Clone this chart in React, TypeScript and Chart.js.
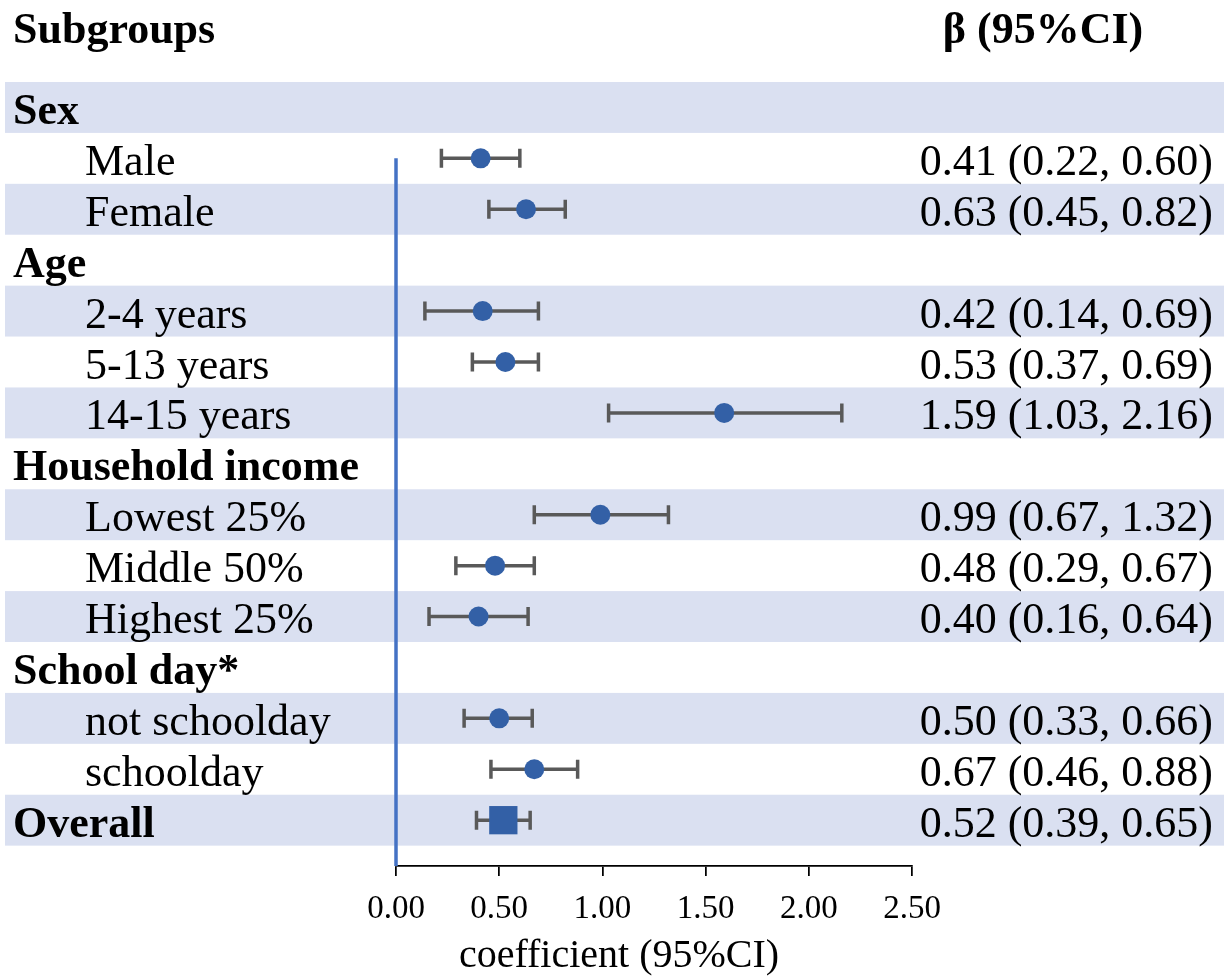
import React, { useEffect, useRef } from "react";
import { Chart, registerables } from "chart.js";

Chart.register(...registerables);

// Forest plot rows, top to bottom
const rowLabels = [
  "Sex",
  "Male",
  "Female",
  "Age",
  "2-4 years",
  "5-13 years",
  "14-15 years",
  "Household income",
  "Lowest 25%",
  "Middle 50%",
  "Highest 25%",
  "School day*",
  "not schoolday",
  "schoolday",
  "Overall",
];
const boldRows = [true, false, false, true, false, false, false, true, false, false, false, true, false, false, true];
const estimates = [null, 0.41, 0.63, null, 0.42, 0.53, 1.59, null, 0.99, 0.48, 0.4, null, 0.5, 0.67, 0.52];
const lowerCI = [null, 0.22, 0.45, null, 0.14, 0.37, 1.03, null, 0.67, 0.29, 0.16, null, 0.33, 0.46, 0.39];
const upperCI = [null, 0.6, 0.82, null, 0.69, 0.69, 2.16, null, 1.32, 0.67, 0.64, null, 0.66, 0.88, 0.65];
const xTicks = [0, 0.5, 1, 1.5, 2, 2.5];

const W = 1231;
const H = 977;
const SERIF = '"Liberation Serif", "Times New Roman", serif';
const BAND = "#DAE0F1";
const MARK = "#3360A6";
const WHISKER = "#595959";

const forestPlugin = {
  id: "forest",
  beforeDraw(chart: any) {
    const { ctx } = chart;
    const y = chart.scales.y;
    ctx.save();
    ctx.fillStyle = "#fff";
    ctx.fillRect(0, 0, chart.width, chart.height);
    ctx.fillStyle = BAND;
    rowLabels.forEach((_, i) => {
      if (i % 2 !== 0) return;
      const top = y.getPixelForValue(i - 0.5);
      const bot = y.getPixelForValue(i + 0.5);
      ctx.fillRect(5, top, 1219, bot - top);
    });
    ctx.restore();
  },
  beforeDatasetsDraw(chart: any) {
    const { ctx } = chart;
    const x = chart.scales.x;
    const y = chart.scales.y;
    ctx.save();
    // reference line at zero
    ctx.strokeStyle = "#4472C4";
    ctx.lineWidth = 3.5;
    ctx.beginPath();
    ctx.moveTo(x.getPixelForValue(0), y.getPixelForValue(1));
    ctx.lineTo(x.getPixelForValue(0), chart.chartArea.bottom);
    ctx.stroke();
    // confidence interval whiskers
    ctx.strokeStyle = WHISKER;
    ctx.lineWidth = 3.5;
    rowLabels.forEach((_, i) => {
      const lo = lowerCI[i];
      const hi = upperCI[i];
      if (lo == null || hi == null) return;
      const py = y.getPixelForValue(i);
      const x0 = x.getPixelForValue(lo);
      const x1 = x.getPixelForValue(hi);
      ctx.beginPath();
      ctx.moveTo(x0, py);
      ctx.lineTo(x1, py);
      ctx.moveTo(x0, py - 9.5);
      ctx.lineTo(x0, py + 9.5);
      ctx.moveTo(x1, py - 9.5);
      ctx.lineTo(x1, py + 9.5);
      ctx.stroke();
    });
    ctx.restore();
  },
  afterDraw(chart: any) {
    const { ctx } = chart;
    const y = chart.scales.y;
    ctx.save();
    ctx.fillStyle = "#000";
    ctx.textBaseline = "alphabetic";
    // column headers
    ctx.font = `bold 44px ${SERIF}`;
    ctx.textAlign = "left";
    ctx.fillText("Subgroups", 13, 43);
    ctx.textAlign = "center";
    ctx.fillText("β (95%CI)", 1043, 43);
    // row labels and values
    rowLabels.forEach((label, i) => {
      const base = y.getPixelForValue(i) + 16.5;
      ctx.textAlign = "left";
      if (boldRows[i]) {
        ctx.font = `bold 44px ${SERIF}`;
        ctx.fillText(label, 13, base);
      } else {
        ctx.font = `44px ${SERIF}`;
        ctx.fillText(label, 85, base);
      }
      const est = estimates[i];
      const lo = lowerCI[i];
      const hi = upperCI[i];
      if (est != null && lo != null && hi != null) {
        ctx.font = `44px ${SERIF}`;
        ctx.textAlign = "right";
        ctx.fillText(`${est.toFixed(2)} (${lo.toFixed(2)}, ${hi.toFixed(2)})`, 1213, base);
      }
    });
    // axis title
    ctx.font = `40px ${SERIF}`;
    ctx.textAlign = "center";
    ctx.fillText("coefficient (95%CI)", 619, 967);
    ctx.restore();
  },
};

export default function App() {
  const canvasRef = useRef<HTMLCanvasElement | null>(null);

  useEffect(() => {
    if (!canvasRef.current) return;
    const points: { x: number; y: number }[] = [];
    const styles: string[] = [];
    const radii: number[] = [];
    estimates.forEach((v, i) => {
      if (v == null) return;
      points.push({ x: v, y: i });
      const overall = rowLabels[i] === "Overall";
      styles.push(overall ? "rect" : "circle");
      radii.push(overall ? 20 : 10);
    });

    const chart = new Chart(canvasRef.current, {
      type: "scatter",
      data: {
        datasets: [
          {
            data: points,
            pointStyle: styles as any,
            pointRadius: radii,
            pointHoverRadius: radii,
            backgroundColor: MARK,
            borderColor: MARK,
            borderWidth: 0,
          },
        ],
      },
      options: {
        animation: false,
        responsive: false,
        devicePixelRatio: 1,
        events: [],
        layout: { padding: { left: 396, right: 319, top: 82, bottom: 0 } },
        plugins: {
          legend: { display: false },
          tooltip: { enabled: false },
        },
        scales: {
          x: {
            type: "linear",
            min: 0,
            max: 2.5,
            afterBuildTicks: (scale: any) => {
              scale.ticks = xTicks.map((v) => ({ value: v }));
            },
            afterFit: (scale: any) => {
              scale.height = 111;
            },
            border: { display: true, color: "#000", width: 1.75 },
            grid: {
              drawOnChartArea: false,
              drawTicks: true,
              tickLength: 10,
              color: "#000",
              lineWidth: 1.75,
            },
            ticks: {
              autoSkip: false,
              maxRotation: 0,
              padding: 14,
              color: "#000",
              font: { family: SERIF, size: 33 },
              callback: (v: any) => Number(v).toFixed(2),
            },
          },
          y: {
            type: "linear",
            display: false,
            reverse: true,
            min: -0.5,
            max: 14.9,
          },
        },
      },
      plugins: [forestPlugin],
    });
    return () => chart.destroy();
  }, []);

  return (
    <div style={{ position: "absolute", left: 0, top: 0, width: W, height: H, background: "#fff" }}>
      <canvas ref={canvasRef} width={W} height={H} style={{ width: W, height: H, display: "block" }} />
    </div>
  );
}
